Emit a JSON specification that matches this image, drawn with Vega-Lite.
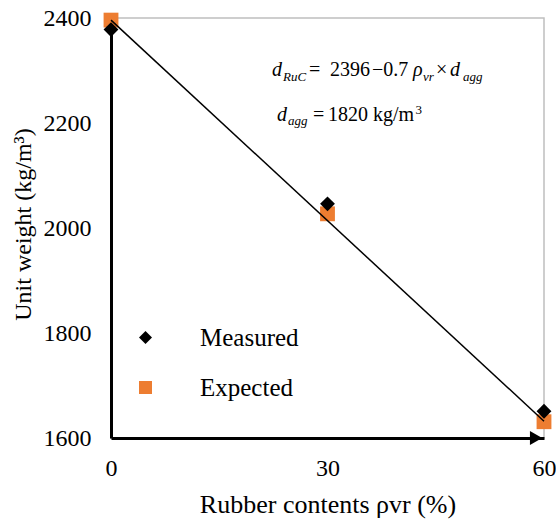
{
  "$schema": "https://vega.github.io/schema/vega-lite/v6.json",
  "width": 433,
  "height": 420,
  "autosize": "none",
  "padding": {"left": 111, "top": 18, "right": 12, "bottom": 82},
  "background": "white",
  "config": {
    "font": "Times New Roman",
    "view": {"stroke": "#bfbfbf", "strokeWidth": 1.5},
    "legend": {"labelFont": "Times New Roman", "labelFontSize": 25, "labelColor": "black"},
    "axis": {"grid": false, "ticks": false, "labelFlush": false, "labelFont": "Times New Roman", "titleFont": "Times New Roman", "labelColor": "black", "titleColor": "black", "titleFontWeight": "normal", "labelFontSize": 24, "titleFontSize": 25, "domainColor": "black", "domainWidth": 3}
  },
  "layer": [
    {
      "data": {"values": [
        {"rubber": 0, "weight": 2396, "series": "Expected"},
        {"rubber": 30, "weight": 2027, "series": "Expected"},
        {"rubber": 60, "weight": 1631, "series": "Expected"},
        {"rubber": 0, "weight": 2378, "series": "Measured"},
        {"rubber": 30, "weight": 2046, "series": "Measured"},
        {"rubber": 60, "weight": 1651, "series": "Measured"}
      ]},
      "mark": {"type": "point", "filled": true, "opacity": 1, "size": 220, "clip": false},
      "encoding": {
        "x": {"field": "rubber", "type": "quantitative", "scale": {"domain": [0, 60], "nice": false, "zero": false},
          "axis": {"values": [0, 30, 60], "format": "d", "title": "Rubber contents ρvr  (%)", "titleFontSize": 26, "labelPadding": 18, "titlePadding": 11}},
        "y": {"field": "weight", "type": "quantitative", "scale": {"domain": [1600, 2400], "nice": false, "zero": false},
          "axis": {"values": [1600, 1800, 2000, 2200, 2400], "format": "d", "title": "Unit weight (kg/m³)", "titleFontSize": 24, "labelPadding": 20, "titleX": -76, "titleY": 206}},
        "shape": {"field": "series", "type": "nominal", "scale": {"domain": ["Measured", "Expected"], "range": ["diamond", "square"]},
          "legend": {"title": null, "orient": "none", "legendX": 22, "legendY": 307, "symbolSize": 170, "rowPadding": 24, "labelOffset": 42, "symbolStrokeWidth": 0, "symbolOpacity": 1}},
        "color": {"field": "series", "type": "nominal", "scale": {"domain": ["Measured", "Expected"], "range": ["black", "#ED7D31"]},
          "legend": {"title": null, "orient": "none", "legendX": 22, "legendY": 307, "symbolSize": 170, "rowPadding": 24, "labelOffset": 42, "symbolStrokeWidth": 0, "symbolOpacity": 1}},
        "order": {"field": "series", "sort": "ascending"}
      }
    },
    {
      "data": {"values": [{"rubber": 0, "weight": 2396}, {"rubber": 60, "weight": 1632}]},
      "mark": {"type": "line", "color": "black", "strokeWidth": 1.5},
      "encoding": {"x": {"field": "rubber", "type": "quantitative"}, "y": {"field": "weight", "type": "quantitative"}}
    },
    {
      "data": {"values": [{"rubber": 58.9, "weight": 1600}]},
      "mark": {"type": "point", "shape": "triangle-right", "filled": true, "color": "black", "opacity": 1, "size": 200, "clip": false},
      "encoding": {"x": {"field": "rubber", "type": "quantitative"}, "y": {"field": "weight", "type": "quantitative"}}
    },
    {
      "data": {"values": [
        {"rubber": 22.31, "weight": 2289, "t": "d"},
        {"rubber": 41.85, "weight": 2289, "t": "ρ"},
        {"rubber": 46.97, "weight": 2289, "t": "d"},
        {"rubber": 23.0, "weight": 2204, "t": "d"}
      ]},
      "mark": {"type": "text", "align": "left", "baseline": "alphabetic", "font": "Times New Roman", "fontStyle": "italic", "fontSize": 20, "color": "black"},
      "encoding": {"x": {"field": "rubber", "type": "quantitative"}, "y": {"field": "weight", "type": "quantitative"}, "text": {"field": "t"}}
    },
    {
      "data": {"values": [
        {"rubber": 23.83, "weight": 2280, "t": "RuC"},
        {"rubber": 43.23, "weight": 2280, "t": "vr"},
        {"rubber": 48.78, "weight": 2280, "t": "agg"},
        {"rubber": 24.53, "weight": 2196, "t": "agg"}
      ]},
      "mark": {"type": "text", "align": "left", "baseline": "alphabetic", "font": "Times New Roman", "fontStyle": "italic", "fontSize": 13, "color": "black"},
      "encoding": {"x": {"field": "rubber", "type": "quantitative"}, "y": {"field": "weight", "type": "quantitative"}, "text": {"field": "t"}}
    },
    {
      "data": {"values": [
        {"rubber": 27.45, "weight": 2289, "t": "="},
        {"rubber": 30.35, "weight": 2289, "t": "2396"},
        {"rubber": 36.17, "weight": 2289, "t": "−0.7"},
        {"rubber": 45.05, "weight": 2289, "t": "×"},
        {"rubber": 28.0, "weight": 2204, "t": "="},
        {"rubber": 30.07, "weight": 2204, "t": "1820"},
        {"rubber": 36.30, "weight": 2204, "t": "kg/m"}
      ]},
      "mark": {"type": "text", "align": "left", "baseline": "alphabetic", "font": "Times New Roman", "fontSize": 20, "color": "black"},
      "encoding": {"x": {"field": "rubber", "type": "quantitative"}, "y": {"field": "weight", "type": "quantitative"}, "text": {"field": "t"}}
    },
    {
      "data": {"values": [{"rubber": 42.2, "weight": 2217, "t": "3"}]},
      "mark": {"type": "text", "align": "left", "baseline": "alphabetic", "font": "Times New Roman", "fontSize": 13, "color": "black"},
      "encoding": {"x": {"field": "rubber", "type": "quantitative"}, "y": {"field": "weight", "type": "quantitative"}, "text": {"field": "t"}}
    }
  ]
}
